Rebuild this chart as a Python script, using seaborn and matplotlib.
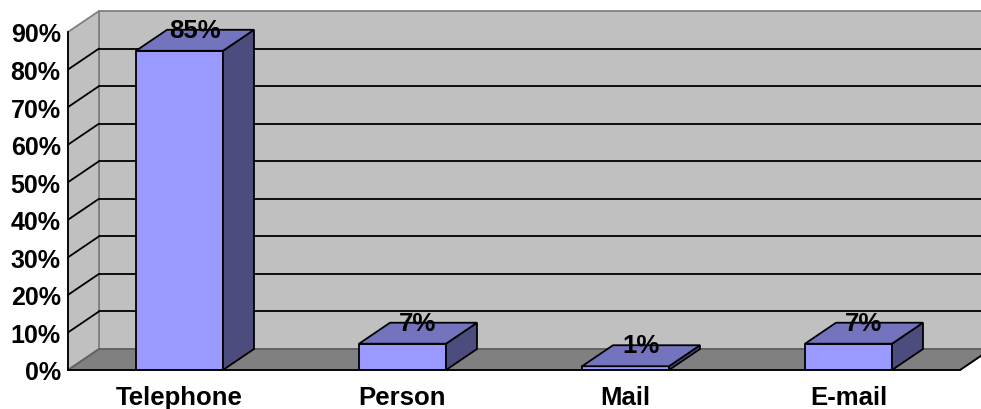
import matplotlib
matplotlib.use("Agg")
import matplotlib.pyplot as plt
from matplotlib.patches import Polygon
from matplotlib.lines import Line2D
import seaborn as sns

categories = ["Telephone", "Person", "Mail", "E-mail"]
shares = [0.85, 0.07, 0.01, 0.07]
y_ticks = [0.0, 0.1, 0.2, 0.3, 0.4, 0.5, 0.6, 0.7, 0.8, 0.9]
y_tick_labels = ["0%", "10%", "20%", "30%", "40%", "50%", "60%", "70%", "80%", "90%"]

sns.set_style("white")
plt.rcParams["font.family"] = ["Liberation Sans", "DejaVu Sans"]
plt.rcParams["text.color"] = "black"
plt.rcParams["xtick.labelcolor"] = "black"
plt.rcParams["ytick.labelcolor"] = "black"

W, H = 981, 410
fig = plt.figure(figsize=(W / 100, H / 100), dpi=100)
left_px, right_px, bottom_px, top_px = 68, 960, 39, 377
ax = fig.add_axes([left_px / W, bottom_px / H,
                   (right_px - left_px) / W, (top_px - bottom_px) / H])

xmin, xmax, ymin, ymax = -0.5, 3.5, 0.0, 0.9

# depth of the 3-D box, in pixels, converted to data units
depth_px = (31, 21)
ddx = depth_px[0] * (xmax - xmin) / (right_px - left_px)
ddy = depth_px[1] * (ymax - ymin) / (top_px - bottom_px)


def back(x, y):
    return (x + ddx, y + ddy)


face_front = "#9999FF"
face_top = "#7474BE"
face_side = "#4C4C7E"
wall = "#C0C0C0"
floor = "#808080"
lw = 1.3

sns.barplot(x=categories, y=shares, color=face_front, saturation=1,
            width=0.39, edgecolor="black", linewidth=lw, ax=ax, zorder=4)

ax.set_xlim(xmin, xmax)
ax.set_ylim(ymin, ymax)

# walls and floor
back_wall = Polygon([back(xmin, ymin), back(xmax, ymin), back(xmax, ymax), back(xmin, ymax)],
                    closed=True, facecolor=wall, edgecolor="#808080", linewidth=lw,
                    zorder=0.5, clip_on=False)
side_wall = Polygon([(xmin, ymin), (xmin, ymax), back(xmin, ymax), back(xmin, ymin)],
                    closed=True, facecolor=wall, edgecolor="#808080", linewidth=lw,
                    zorder=0.6, clip_on=False)
floor_poly = Polygon([(xmin, ymin), (xmax, ymin), back(xmax, ymin), back(xmin, ymin)],
                     closed=True, facecolor=floor, edgecolor="#606060", linewidth=lw,
                     zorder=0.7, clip_on=False)
for p in (back_wall, side_wall, floor_poly):
    ax.add_patch(p)

# gridlines on the back and side walls
for v in y_ticks[1:-1]:
    bx0, by = back(xmin, v)
    bx1, _ = back(xmax, v)
    ax.add_line(Line2D([bx0, bx1], [by, by], color="black", linewidth=lw,
                       zorder=1, clip_on=False))
    ax.add_line(Line2D([xmin, bx0], [v, by], color="black", linewidth=lw,
                       zorder=1, clip_on=False))

# right edge of the floor
fx, fy = back(xmax, ymin)
ax.add_line(Line2D([xmax, fx], [ymin, fy], color="black", linewidth=lw,
                   zorder=1, clip_on=False))

# top and side faces of each bar, plus value labels
for patch, v in zip(ax.patches[:len(shares)], shares):
    x0 = patch.get_x()
    w = patch.get_width()
    h = patch.get_height()
    x1 = x0 + w
    top = Polygon([(x0, h), (x1, h), back(x1, h), back(x0, h)], closed=True,
                  facecolor=face_top, edgecolor="black", linewidth=lw,
                  zorder=4, clip_on=False, joinstyle="miter")
    side = Polygon([(x1, 0), (x1, h), back(x1, h), back(x1, 0)], closed=True,
                   facecolor=face_side, edgecolor="black", linewidth=lw,
                   zorder=4, clip_on=False, joinstyle="miter")
    ax.add_patch(side)
    ax.add_patch(top)
    lx, ly = back(x0 + w / 2, h)
    ax.text(lx - ddx / 2, ly, f"{round(v * 100)}%", ha="center", va="center",
            fontsize=18.5, fontweight="bold", color="black", zorder=6)

# axes styling
for name in ("top", "right"):
    ax.spines[name].set_visible(False)
for name in ("left", "bottom"):
    ax.spines[name].set_color("black")
    ax.spines[name].set_linewidth(lw)
    ax.spines[name].set_zorder(5)

ax.set_yticks(y_ticks)
ax.set_yticklabels(y_tick_labels, fontsize=18, fontweight="bold", color="black")
ax.tick_params(axis="y", direction="out", length=4.3, width=lw, color="black", pad=1)

ax.set_xticks(range(len(categories)))
ax.set_xticklabels(categories, fontsize=18.5, fontweight="bold", color="black")
ax.set_xticks([-0.5, 0.5, 1.5, 2.5, 3.5], minor=True)
ax.tick_params(axis="x", which="major", length=0, pad=11)
ax.tick_params(axis="x", which="minor", direction="out", length=4, width=lw, color="black")
ax.set_xlabel("")
ax.set_ylabel("")
ax.set_facecolor("none")
ax.grid(False)

fig.savefig("out.png", dpi=100)
